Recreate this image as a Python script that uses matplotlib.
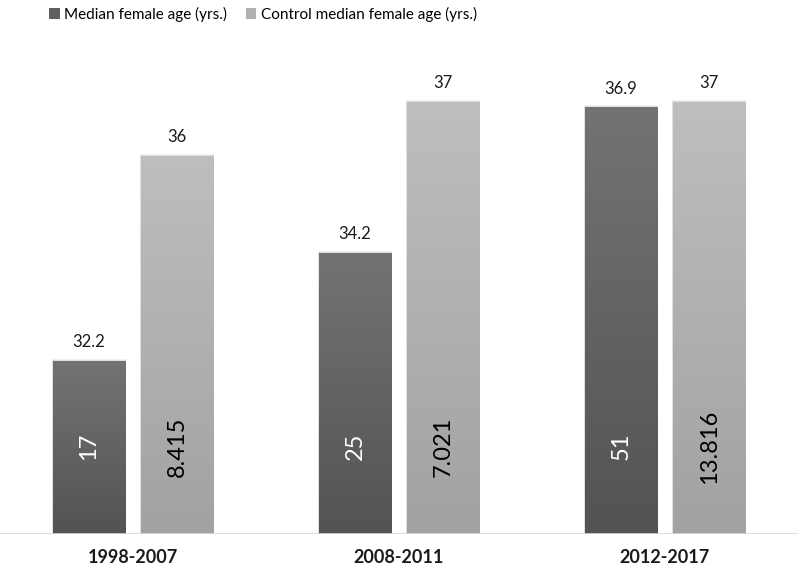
import numpy as np
import matplotlib
matplotlib.use("Agg")
import matplotlib.pyplot as plt
from matplotlib.colors import LinearSegmentedColormap
from matplotlib.patches import Rectangle, Patch

categories = ["1998-2007", "2008-2011", "2012-2017"]
median_age = [32.2, 34.2, 36.9]
control_age = [36, 37, 37]
median_inner = ["17", "25", "51"]
control_inner = ["8.415", "7.021", "13.816"]
series_names = ["Median female age (yrs.)", "Control median female age (yrs.)"]

plt.rcParams['font.family'] = ['Lato', 'DejaVu Sans']

W, H = 799, 573
fig = plt.figure(figsize=(W / 100, H / 100), dpi=100)
ax = fig.add_axes([0, 39 / H, 798 / W, (534 - 40) / H])
ymin = 29
ymax = 29 + (534 - 40) / 54.0

x = np.arange(len(categories))
bw = 0.271
gap = 0.06
off = (bw + gap) / 2

dark_cmap = LinearSegmentedColormap.from_list("d", ["#535353", "#737373"])
light_cmap = LinearSegmentedColormap.from_list("l", ["#a2a2a2", "#bebebe"])
grad = np.linspace(0, 1, 256).reshape(-1, 1)

b1 = ax.bar(x - off, [v - ymin for v in median_age], bw, bottom=ymin, color="none", edgecolor="none")
b2 = ax.bar(x + off, [v - ymin for v in control_age], bw, bottom=ymin, color="none", edgecolor="none")

for bars, cmap in ((b1, dark_cmap), (b2, light_cmap)):
    for r in bars:
        x0, y0 = r.get_x(), r.get_y()
        w, h = r.get_width(), r.get_height()
        for k, a in ((0.012, 0.05), (0.007, 0.07)):
            ax.add_patch(Rectangle((x0 - k * 0.3, y0), w + 2 * k * 0.3, h + k * 3,
                                   color="black", alpha=a, lw=0, zorder=1))
        ax.imshow(grad, cmap=cmap, extent=[x0, x0 + w, y0, y0 + h], origin="lower",
                  aspect="auto", zorder=2, interpolation="bilinear")

ax.set_xlim(-0.5, 2.5)
ax.set_ylim(ymin, ymax)

inner_y = 30.62
for i in range(len(categories)):
    ax.text(x[i] - off, median_age[i] + 0.2, f"{median_age[i]:g}", ha="center", va="bottom",
            fontsize=12, color="#1a1a1a")
    ax.text(x[i] + off, control_age[i] + 0.2, f"{control_age[i]:g}", ha="center", va="bottom",
            fontsize=12, color="#1a1a1a")
    ax.text(x[i] - off, inner_y, median_inner[i], ha="center", va="center", rotation=90,
            fontsize=17, color="white", zorder=5)
    ax.text(x[i] + off, inner_y, control_inner[i], ha="center", va="center", rotation=90,
            fontsize=17, color="black", zorder=5)

ax.axhline(ymin, color="#d9d9d9", lw=1.2, zorder=3)
for s in ax.spines.values():
    s.set_visible(False)
ax.set_yticks([])
ax.set_xticks(x)
ax.set_xticklabels(categories, fontsize=13, fontweight="bold", color="#1a1a1a")
ax.tick_params(axis="x", length=0, pad=11)

handles = [Patch(facecolor="#5f5f5f"), Patch(facecolor="#b0b0b0")]
fig.legend(handles, series_names, loc="center", bbox_to_anchor=(263 / W, 1 - 14 / H), ncol=2,
           frameon=False, fontsize=11, handlelength=0.7, handleheight=0.7, handletextpad=0.3,
           columnspacing=1.2, borderaxespad=0, borderpad=0)

fig.savefig("out.png", dpi=100)
